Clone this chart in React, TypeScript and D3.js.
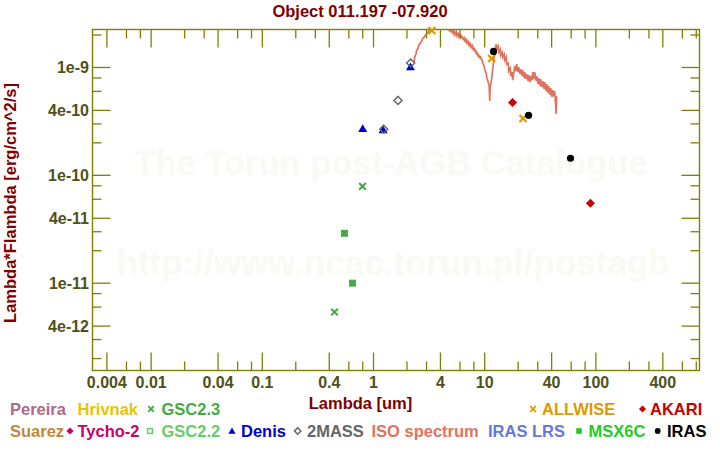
import React from "react";
import * as d3 from "d3";

const TITLE = "Object 011.197 -07.920";
const X_LABEL = "Lambda [um]";
const Y_LABEL = "Lambda*Flambda [erg/cm^2/s]";
const WATERMARK_1 = "The Torun post-AGB Catalogue";
const WATERMARK_2 = "http://www.ncac.torun.pl/postagb";

// axis domains (um, erg/cm^2/s)
const xDomain = [0.00297, 855];
const yDomain = [1.55e-12, 2.25e-9];

const xMajorTicks = [0.004, 0.01, 0.04, 0.1, 0.4, 1, 4, 10, 40, 100, 400];
const xMajorLabels = ["0.004", "0.01", "0.04", "0.1", "0.4", "1", "4", "10", "40", "100", "400"];
const xMinorBottom = [0.006, 0.008, 0.02, 0.06, 0.08, 0.2, 0.6, 0.8, 2, 3, 6, 8, 20, 30, 60, 80, 200, 300, 600, 800];
const xMinorTop = [0.006, 0.008, 0.02, 0.03, 0.06, 0.08, 0.2, 0.3, 0.6, 0.8, 2, 3, 6, 8, 20, 30, 60, 80, 200, 300, 600, 800];
const yMajorTicks = [4e-12, 1e-11, 4e-11, 1e-10, 4e-10, 1e-9];
const yMajorLabels = ["4e-12", "1e-11", "4e-11", "1e-10", "4e-10", "1e-9"];
const yMinorTicks = [2e-12, 3e-12, 6e-12, 8e-12, 2e-11, 3e-11, 6e-11, 8e-11, 2e-10, 3e-10, 6e-10, 8e-10, 2e-9];

// photometry
const gsc23Lam = [0.446, 0.796];
const gsc23Flux = [5.4e-12, 7.9e-11];
const gsc22Lam = [0.548, 0.647];
const gsc22Flux = [2.9e-11, 1.0e-11];
const denisLam = [0.8, 1.22, 2.15];
const denisFlux = [2.71e-10, 2.63e-10, 1.01e-9];
const twomassLam = [1.235, 1.662, 2.159];
const twomassFlux = [2.68e-10, 4.95e-10, 1.1e-9];
const allwiseLam = [3.35, 11.56, 22.1];
const allwiseFlux = [2.2e-9, 1.21e-9, 3.37e-10];
const akariLam = [17.8, 89.4];
const akariFlux = [4.74e-10, 5.51e-11];
const irasLam = [12.0, 24.8, 59.1];
const irasFlux = [1.41e-9, 3.6e-10, 1.44e-10];

// ISO spectrum: wavelength (um) and flux in units of 1e-10 erg/cm^2/s
const ISO_UNIT = 1e-10;
const isoLam = [
  2.323, 2.347, 2.421, 2.446, 2.523, 2.549, 2.63, 2.657, 2.741, 2.77, 2.857, 2.887, 2.978, 3.009, 3.104, 3.136,
  3.236, 3.303, 3.515, 3.818, 4.148, 4.507, 4.697,
  4.895, 4.946, 5.103, 5.156, 5.318, 5.373, 5.543, 5.601, 5.777, 5.837, 6.021, 6.084, 6.276, 6.341, 6.541, 6.609,
  6.817, 6.888, 7.105, 7.179, 7.405, 7.482, 7.718, 7.798, 8.045, 8.129, 8.385, 8.472, 8.739, 8.83, 9.11, 9.205,
  9.495, 9.594, 9.897, 10.0, 10.31, 10.42, 10.75, 10.98, 11.1, 11.21, 11.44, 11.68, 11.93, 12.17, 12.43, 12.69,
  12.82, 13.22, 13.36, 13.79, 13.93, 14.37, 14.52, 14.98, 15.14, 15.61, 15.77, 16.27, 16.44, 16.96, 17.14, 17.68,
  17.86, 18.42, 18.61, 19.2, 19.4, 20.01, 20.22, 20.86, 21.08, 21.74, 21.97, 22.66, 22.9, 23.62, 23.87, 24.62,
  24.88, 25.66, 25.93, 26.74, 27.02, 27.87, 28.16, 29.05, 29.35, 30.28, 30.6, 31.56, 31.89, 32.89, 33.23, 34.28,
  34.64, 35.73, 36.1, 37.25, 37.64, 38.81, 39.21, 40.46, 40.88, 42.17, 42.61, 43.95, 44.4,
];
const isoFlux = [
  11.2, 12.46, 13.57, 14.46, 15.09, 16.09, 16.79, 17.15, 17.89, 18.67, 19.08, 19.49, 20.34, 20.78, 21.23, 21.68,
  22.15, 22.63, 24.6, 27.42, 28.0, 25.17, 22.63,
  21.68, 23.12, 21.23, 22.15, 20.34, 21.68, 19.91, 21.23, 19.49, 20.34, 19.08, 19.91, 18.67, 19.08, 17.89, 18.67,
  17.15, 17.89, 16.43, 17.15, 15.75, 16.43, 15.09, 15.75, 14.46, 14.77, 13.57, 13.86, 12.73, 13.0, 12.2, 12.46,
  11.69, 10.96, 10.28, 9.64, 8.86, 8.13, 7.31, 6.71, 4.88, 6.57, 7.31, 8.67, 10.5, 12.73, 15.09, 16.43,
  14.77, 15.75, 13.86, 14.77, 13.0, 13.86, 12.46, 13.28, 11.69, 12.46, 10.73, 10.96, 9.24, 9.85, 8.31, 9.05,
  7.63, 9.44, 10.28, 9.24, 10.73, 9.05, 10.06, 8.67, 9.64, 8.31, 9.44, 7.96, 9.05, 7.8, 8.67, 7.47,
  8.49, 7.31, 8.31, 7.63, 9.05, 7.8, 9.05, 7.47, 8.31, 7.01, 7.96, 6.71, 7.8, 6.57, 7.47, 6.3,
  7.31, 6.03, 7.01, 5.78, 6.71, 5.54, 6.43, 5.31, 6.16, 5.42, 6.03, 3.7, 5.42,
];

// legend
const legendNames = [
  "Pereira", "Hrivnak", "GSC2.3", "ALLWISE", "AKARI",
  "Suarez", "Tycho-2", "GSC2.2", "Denis", "2MASS", "ISO spectrum", "IRAS LRS", "MSX6C", "IRAS",
];
const legendColors = [
  "#b06a88", "#e6c400", "#44aa44", "#dd9900", "#cc0000",
  "#c0883a", "#cc0066", "#66cc66", "#0000cc", "#666666", "#e0735f", "#6677dd", "#22cc22", "#000000",
];
const legendMarkers = [
  "none", "none", "cross", "cross", "diamondFill",
  "none", "diamondFill", "squareOpen", "triangle", "diamondOpen", "none", "none", "squareFill", "circle",
];
// layout: [marker x, text x, row]
const legendLayout = [
  [0, 10, 0], [0, 77.5, 0], [151, 161.5, 0], [533, 542, 0], [642.5, 650, 0],
  [0, 10, 1], [70, 77.5, 1], [150, 161.5, 1], [232, 241, 1], [297.7, 307, 1], [0, 371.5, 1], [0, 488, 1], [579, 588.5, 1], [657.7, 667, 1],
];

const FONT = "'Liberation Sans', Arial, Helvetica, sans-serif";
const AXIS = "#808000";
const TICKTXT = "#50501a";
const DARKRED = "#800000";

const L = 92.5, R = 699.5, T = 29.5, B = 370.5;

function Marker({ type, x, y, color, s = 1 }: { type: string; x: number; y: number; color: string; s?: number }) {
  if (type === "cross") {
    const h = 3.5 * s;
    return (
      <g stroke={color} strokeWidth={2.2 * s}>
        <line x1={x - h} y1={y - h} x2={x + h} y2={y + h} />
        <line x1={x - h} y1={y + h} x2={x + h} y2={y - h} />
      </g>
    );
  }
  if (type === "diamondFill") {
    const h = 4.5 * s;
    return <path d={`M${x},${y - h}L${x + h},${y}L${x},${y + h}L${x - h},${y}Z`} fill={color} />;
  }
  if (type === "diamondOpen") {
    const h = 4 * s;
    return <path d={`M${x},${y - h}L${x + h},${y}L${x},${y + h}L${x - h},${y}Z`} fill="none" stroke={color} strokeWidth={1.5} />;
  }
  if (type === "triangle") {
    const h = 4.5 * s;
    return <path d={`M${x},${y - h}L${x + h},${y + 3.3 * s}L${x - h},${y + 3.3 * s}Z`} fill={color} />;
  }
  if (type === "squareOpen") {
    const h = 3 * s;
    return <rect x={x - h} y={y - h} width={2 * h} height={2 * h} fill="none" stroke={color} strokeWidth={1.5} />;
  }
  if (type === "squareFill") {
    const h = 3.5 * s;
    return <rect x={x - h} y={y - h} width={2 * h} height={2 * h} fill={color} />;
  }
  if (type === "circle") {
    return <circle cx={x} cy={y} r={3.6 * s} fill={color} />;
  }
  return null;
}

export default function App() {
  const x = d3.scaleLog().domain(xDomain).range([L, R]);
  const y = d3.scaleLog().domain(yDomain).range([B, T]);

  const isoData = isoLam.map((l, i) => [l, isoFlux[i] * ISO_UNIT] as [number, number]);
  const line = d3
    .line<[number, number]>()
    .x((d) => x(d[0]))
    .y((d) => y(d[1]));

  const MAJ = 18;
  const MIN = 9;

  const series = [
    { lam: gsc23Lam, flux: gsc23Flux, type: "gscx", color: "#44aa44" },
    { lam: gsc22Lam, flux: gsc22Flux, type: "gscsq", color: "#55b555" },
    { lam: denisLam, flux: denisFlux, type: "triangle", color: "#0000cc" },
    { lam: twomassLam, flux: twomassFlux, type: "diamondOpen", color: "#666666" },
    { lam: akariLam, flux: akariFlux, type: "diamondFill", color: "#cc0000" },
    { lam: allwiseLam, flux: allwiseFlux, type: "cross", color: "#dd9900" },
    { lam: irasLam, flux: irasFlux, type: "circle", color: "#000000" },
  ];

  return (
    <svg
      width={720}
      height={450}
      style={{ position: "absolute", left: 0, top: 0, background: "#fff" }}
      fontFamily={FONT}
    >
      <rect x={0} y={0} width={720} height={450} fill="#ffffff" />
      <defs>
        <clipPath id="plotclip">
          <rect x={L} y={T} width={R - L} height={B - T} />
        </clipPath>
      </defs>

      {/* watermarks */}
      <text x={391} y={175} textAnchor="middle" fontSize={34.5} fontWeight="bold" fill="#fbf9f3">
        {WATERMARK_1}
      </text>
      <text x={393} y={275} textAnchor="middle" fontSize={35} fontWeight="bold" fill="#fbf9f3">
        {WATERMARK_2}
      </text>

      {/* title */}
      <text x={360} y={17} textAnchor="middle" fontSize={16.5} fontWeight="bold" fill={DARKRED}>
        {TITLE}
      </text>

      {/* ISO spectrum */}
      <path
        d={line(isoData) || ""}
        fill="none"
        stroke="#e0735f"
        strokeWidth={1.7}
        strokeLinejoin="miter"
        clipPath="url(#plotclip)"
      />

      {/* frame */}
      <rect x={L} y={T} width={R - L} height={B - T} fill="none" stroke={AXIS} strokeWidth={1.4} />

      {/* ticks */}
      <g stroke={AXIS} strokeWidth={1.3}>
        {xMajorTicks.map((t, i) => (
          <g key={"xm" + i}>
            <line x1={x(t)} x2={x(t)} y1={B} y2={B - MAJ} />
            <line x1={x(t)} x2={x(t)} y1={T} y2={T + MAJ} />
          </g>
        ))}
        {xMinorBottom.map((t, i) => (
          <line key={"xb" + i} x1={x(t)} x2={x(t)} y1={B} y2={B - MIN} />
        ))}
        {xMinorTop.map((t, i) => (
          <line key={"xt" + i} x1={x(t)} x2={x(t)} y1={T} y2={T + MIN} />
        ))}
        {yMajorTicks.map((t, i) => (
          <g key={"ym" + i}>
            <line x1={L} x2={L + MAJ} y1={y(t)} y2={y(t)} />
            <line x1={R} x2={R - MAJ} y1={y(t)} y2={y(t)} />
          </g>
        ))}
        {yMinorTicks.map((t, i) => (
          <g key={"yn" + i}>
            <line x1={L} x2={L + MIN} y1={y(t)} y2={y(t)} />
            <line x1={R} x2={R - MIN} y1={y(t)} y2={y(t)} />
          </g>
        ))}
      </g>

      {/* tick labels */}
      <g fontSize={16} fontWeight="bold" fill={TICKTXT}>
        {xMajorTicks.map((t, i) => (
          <text key={"xl" + i} x={x(t)} y={387.5} textAnchor="middle">
            {xMajorLabels[i]}
          </text>
        ))}
        {yMajorTicks.map((t, i) => (
          <text key={"yl" + i} x={89} y={y(t) + 5.8} textAnchor="end">
            {yMajorLabels[i]}
          </text>
        ))}
      </g>

      {/* axis labels */}
      <text x={360.5} y={409} textAnchor="middle" fontSize={16.5} fontWeight="bold" fill={DARKRED}>
        {X_LABEL}
      </text>
      <text
        transform="rotate(-90)"
        x={-203}
        y={15.5}
        textAnchor="middle"
        fontSize={16.5}
        fontWeight="bold"
        fill={DARKRED}
      >
        {Y_LABEL}
      </text>

      {/* photometric points */}
      {series.map((s, si) =>
        s.lam.map((l, i) => {
          const px = x(l);
          const py = y(s.flux[i]);
          if (s.type === "gscx") {
            return <Marker key={si + "-" + i} type="cross" x={px} y={py} color={s.color} s={0.95} />;
          }
          if (s.type === "gscsq") {
            return (
              <g key={si + "-" + i}>
                <rect x={px - 3.5} y={py - 3.5} width={7} height={7} fill={s.color} />
                <Marker type="cross" x={px} y={py} color="#44a044" s={0.8} />
              </g>
            );
          }
          return <Marker key={si + "-" + i} type={s.type} x={px} y={py} color={s.color} />;
        })
      )}

      {/* legend */}
      <g fontSize={16.5} fontWeight="bold">
        {legendNames.map((n, i) => {
          const [mx, tx, row] = legendLayout[i];
          const base = row === 0 ? 415 : 437;
          const my = base - 6;
          return (
            <g key={"lg" + i}>
              {legendMarkers[i] !== "none" && (
                <Marker type={legendMarkers[i]} x={mx} y={my} color={legendColors[i]} s={0.8} />
              )}
              <text x={tx} y={base} fill={legendColors[i]}>
                {n}
              </text>
            </g>
          );
        })}
      </g>
    </svg>
  );
}
